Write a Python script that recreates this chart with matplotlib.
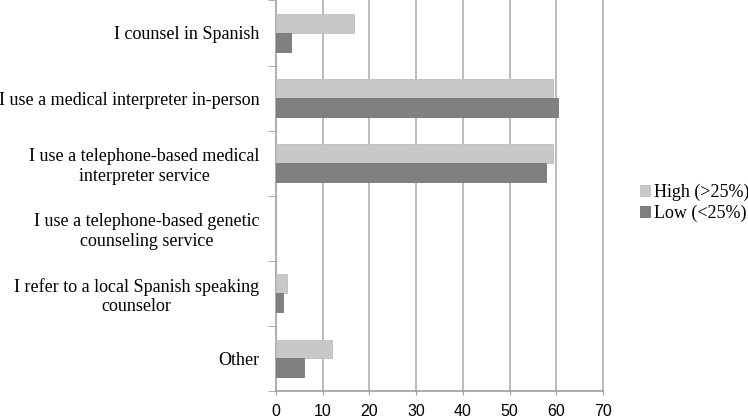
import numpy as np
import matplotlib
matplotlib.use('Agg')
import matplotlib.pyplot as plt

# categories, top to bottom
categories = ['I counsel in Spanish',
              'I use a medical interpreter in-person',
              'I use a telephone-based medical\ninterpreter service',
              'I use a telephone-based genetic\ncounseling service',
              'I refer to a local Spanish speaking\ncounselor',
              'Other']
high = [16.7, 59.4, 59.4, 0, 2.4, 11.9]
low = [3.3, 60.4, 57.7, 0, 1.6, 6.0]
series_names = ['High (>25%)', 'Low (<25%)']
xticks = [0, 10, 20, 30, 40, 50, 60, 70]

fig = plt.figure(figsize=(7.48, 4.19), dpi=100)
ax = fig.add_axes([276/748, 1-391/419, (603-276)/748, 391/419 - 0.001])

y = np.arange(len(categories))
h = 0.29
# no outline on empty bars
lw_high = [0.6 if v > 0 else 0 for v in high]
lw_low = [0.6 if v > 0 else 0 for v in low]
ax.barh(y - h/2, high, height=h, color='#c8c8c8', edgecolor='#bdbdbd', linewidth=lw_high,
        label=series_names[0], zorder=3)
ax.barh(y + h/2, low, height=h, color='#808080', edgecolor='#767676', linewidth=lw_low,
        label=series_names[1], zorder=3)

ax.set_xlim(0, 70)
ax.set_ylim(len(categories) - 0.5, -0.5)
ax.set_xticks(xticks)
ax.set_xticklabels([str(t) for t in xticks], fontsize=11.5, family='Liberation Sans')
ax.tick_params(axis='x', length=3, color='#a0a0a0', pad=6.5)
for t in xticks[1:]:
    ax.axvline(t, color='#b0b0b0', lw=1.2, zorder=1, clip_on=False)

ax.set_yticks(y)
ax.set_yticklabels(categories, fontsize=13, family='Liberation Serif', ha='right', multialignment='center')
ax.tick_params(axis='y', which='major', length=0, pad=12)
ax.set_yticks(np.arange(-0.5, len(categories)), minor=True)
ax.tick_params(axis='y', which='minor', length=6, color='#a0a0a0')

for s in ['top', 'right']:
    ax.spines[s].set_visible(False)
for s in ['left', 'bottom']:
    ax.spines[s].set_color('#a0a0a0')
    ax.spines[s].set_linewidth(1.2)

ax.legend(loc='center left', bbox_to_anchor=(633/748, 1-203/419), bbox_transform=fig.transFigure,
          frameon=False, prop={'family': 'Liberation Serif', 'size': 13}, borderaxespad=0,
          handlelength=0.55, handleheight=0.55, handletextpad=0.2, labelspacing=0.2)

fig.savefig('out.png', dpi=100)
